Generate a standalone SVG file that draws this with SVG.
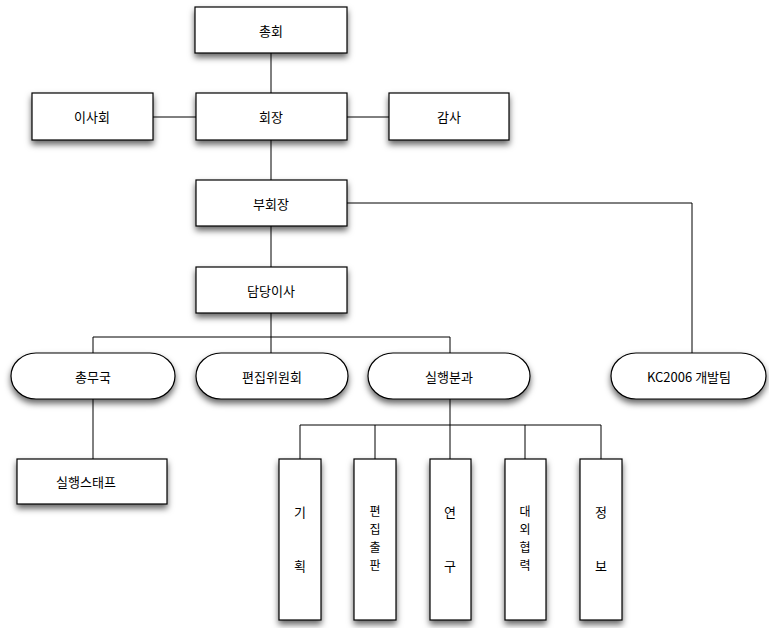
<svg xmlns="http://www.w3.org/2000/svg" width="769" height="628" viewBox="0 0 769 628">
<defs>
<filter id="sh" x="-20%" y="-20%" width="140%" height="160%">
<feDropShadow dx="0" dy="4" stdDeviation="3" flood-color="#000" flood-opacity="0.6"/>
</filter>
<style>
.n{fill:#fff;stroke:#000;stroke-width:1.2;filter:url(#sh)}
.t{font-family:"Noto Sans CJK KR","Liberation Sans",sans-serif;font-size:13px;fill:#000;text-anchor:middle;dominant-baseline:central}
.v{font-size:12px}
.c{fill:none;stroke:#000;stroke-width:1}
</style>
</defs>
<g id="connectors">
<path class="c" d="M271,53V95M153,117H196M347,117H389M271,140V180M347,203H692V353M271,226V267M271,313V337M93,337H450M93,337V353M271,337V353M450,337V353M93,399V459M450,399V425M300,425H601M300,425V459M375,425V459M450,425V459M525,425V459M601,425V459"/>
</g>
<g id="n1"><rect class="n" x="195" y="7" width="152" height="46"/><text class="t" x="271" y="30">총회</text></g>
<g id="n2"><rect class="n" x="32" y="93" width="121" height="47"/><text class="t" x="92" y="116">이사회</text></g>
<g id="n3"><rect class="n" x="196" y="93" width="151" height="47"/><text class="t" x="271" y="116">회장</text></g>
<g id="n4"><rect class="n" x="389" y="93" width="120" height="47"/><text class="t" x="449" y="116">감사</text></g>
<g id="n5"><rect class="n" x="196" y="180" width="151" height="46"/><text class="t" x="271" y="203">부회장</text></g>
<g id="n6"><rect class="n" x="196" y="267" width="151" height="46"/><text class="t" x="271" y="290">담당이사</text></g>
<g id="n7"><rect class="n" x="11" y="353" width="164" height="46" rx="25" ry="23"/><text class="t" x="93" y="376">총무국</text></g>
<g id="n8"><rect class="n" x="196" y="353" width="152" height="46" rx="25" ry="23"/><text class="t" x="272" y="376">편집위원회</text></g>
<g id="n9"><rect class="n" x="368" y="353" width="162" height="46" rx="25" ry="23"/><text class="t" x="449" y="376">실행분과</text></g>
<g id="n10"><rect class="n" x="611" y="353" width="155" height="46" rx="25" ry="23"/><text class="t" x="689" y="376">KC2006 개발팀</text></g>
<g id="n11"><rect class="n" x="17" y="459" width="150" height="45"/><text class="t" x="86" y="481">실행스태프</text></g>
<g id="n12"><rect class="n" x="279" y="459" width="42" height="161"/><text class="t" x="300" y="511">기</text><text class="t" x="300" y="565">획</text></g>
<g id="n13"><rect class="n" x="354" y="459" width="42" height="161"/><text class="t v" x="375" y="510">편</text><text class="t v" x="375" y="528">집</text><text class="t v" x="375" y="546">출</text><text class="t v" x="375" y="564">판</text></g>
<g id="n14"><rect class="n" x="430" y="459" width="41" height="161"/><text class="t" x="450" y="511">연</text><text class="t" x="450" y="565">구</text></g>
<g id="n15"><rect class="n" x="505" y="459" width="41" height="161"/><text class="t v" x="525" y="510">대</text><text class="t v" x="525" y="528">외</text><text class="t v" x="525" y="546">협</text><text class="t v" x="525" y="564">력</text></g>
<g id="n16"><rect class="n" x="580" y="459" width="42" height="161"/><text class="t" x="601" y="511">정</text><text class="t" x="601" y="565">보</text></g>
</svg>
